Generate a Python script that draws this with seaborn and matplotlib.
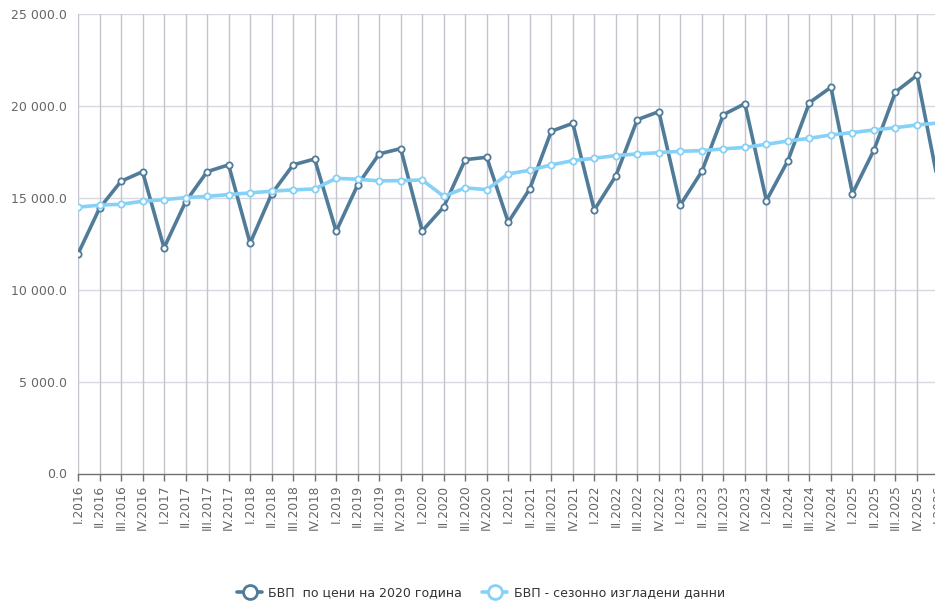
import numpy as np
import pandas as pd
import matplotlib
matplotlib.use("Agg")
import matplotlib.pyplot as plt
import seaborn as sns
from matplotlib.lines import Line2D
from matplotlib.ticker import FuncFormatter

quarters = ["I", "II", "III", "IV"]
labels = [f"{q}.{y}" for y in range(2016, 2026) for q in quarters] + ["I.2026"]

gdp_2020_prices = [
    11940, 14420, 15890, 16410,
    12270, 14770, 16410, 16780,
    12520, 15200, 16780, 17100,
    13170, 15690, 17375, 17665,
    13190, 14495, 17065, 17195,
    13660, 15480, 18610, 19040,
    14330, 16180, 19240, 19675,
    14600, 16430, 19510, 20110,
    14840, 17010, 20165, 21000,
    15220, 17590, 20745, 21650,
    15720,
]
gdp_seasonally_adjusted = [
    14480, 14590, 14640, 14800,
    14890, 15000, 15070, 15165,
    15255, 15350, 15420, 15470,
    16050, 16000, 15910, 15925,
    15960, 15070, 15530, 15435,
    16290, 16490, 16780, 17010,
    17140, 17285, 17375, 17445,
    17520, 17555, 17650, 17730,
    17900, 18080, 18225, 18410,
    18535, 18680, 18805, 18950,
    19060,
]
series_names = ["БВП  по цени на 2020 година", "БВП - сезонно изгладени данни"]
colors = ["#517c99", "#86d1f7"]

pos = np.arange(len(labels))
df = pd.DataFrame({
    "pos": np.concatenate([pos, pos]),
    "value": gdp_2020_prices + gdp_seasonally_adjusted,
    "series": [series_names[0]] * len(pos) + [series_names[1]] * len(pos),
})

sns.set_theme(style="white")
plt.rcParams["font.family"] = ["DejaVu Sans"]

W, H = 935, 607
fig = plt.figure(figsize=(W / 100, H / 100), dpi=100)
left_px, right_px, top_px, bottom_px = 78, 938.5, 13.7, 473.5
ax = fig.add_axes([left_px / W, 1 - bottom_px / H,
                   (right_px - left_px) / W, (bottom_px - top_px) / H])

for name, col, z in [(series_names[0], colors[0], 3), (series_names[1], colors[1], 4)]:
    sub = df[df["series"] == name]
    sns.lineplot(data=sub, x="pos", y="value", ax=ax, color=col, linewidth=2.6,
                 marker="o", markersize=4.5, markerfacecolor="white",
                 markeredgecolor=col, markeredgewidth=1.3, zorder=z, legend=False)

ax.set_xlim(0, len(labels) - 1)
ax.set_ylim(0, 25000)
ax.set_xticks(pos)
ax.set_xticklabels(labels, rotation=90, fontsize=8.8, color="#666666")
ax.set_yticks(np.arange(0, 25001, 5000))
ax.yaxis.set_major_formatter(FuncFormatter(lambda v, p: f"{v:,.1f}".replace(",", " ")))
ax.tick_params(axis="y", length=0, labelsize=9, labelcolor="#666666", pad=8)
ax.tick_params(axis="x", length=5, width=1, color="#707070", pad=3,
               direction="out", bottom=True)
ax.set_xlabel("")
ax.set_ylabel("")

ax.grid(False)
for v in np.arange(5000, 25001, 5000):
    ax.axhline(v, color="#d8d8e0", linewidth=1, zorder=1)
for p in pos:
    ax.axvline(p, color="#c4c4cc", linewidth=1, zorder=1)

for s in ["top", "right", "left"]:
    ax.spines[s].set_visible(False)
ax.spines["bottom"].set_color("#707070")
ax.spines["bottom"].set_linewidth(1)

handles = [Line2D([0], [0], color=c, linewidth=2.6, marker="o", markersize=10,
                  markerfacecolor="white", markeredgecolor=c, markeredgewidth=2)
           for c in colors]
fig.legend(handles, series_names, loc="center", bbox_to_anchor=(481 / W, 1 - 593 / H),
           ncol=2, frameon=False, fontsize=9, handlelength=2, columnspacing=1.6,
           handletextpad=0.5, labelcolor="#333333")

fig.savefig("out.png", dpi=100)
